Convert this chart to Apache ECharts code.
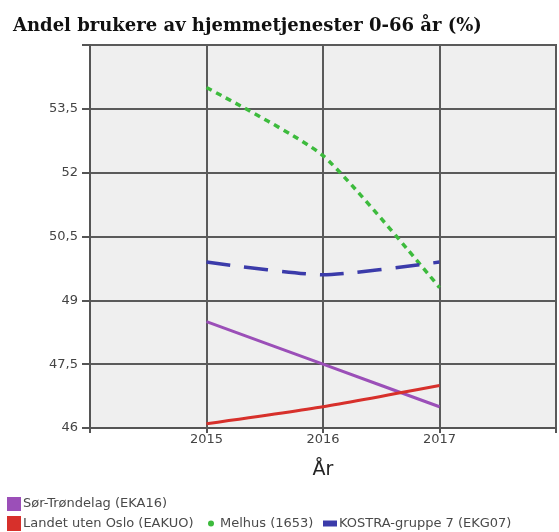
<!DOCTYPE html>
<html><head><meta charset="utf-8">
<script src="https://cdn.jsdelivr.net/npm/echarts@6/dist/echarts.min.js"></script>
<style>html,body{margin:0;padding:0;background:#fff}#c{width:559px;height:532px}</style>
</head><body><div id="c"></div>
<script>
const years = [2015, 2016, 2017];
const sorTrondelag = [48.5, 47.5, 46.5];
const landetUtenOslo = [46.1, 46.5, 47.0];
const melhus = [54.0, 52.4, 49.3];
const kostra7 = [49.9, 49.6, 49.9];
const seriesNames = ['Sør-Trøndelag (EKA16)', 'Landet uten Oslo (EAKUO)', 'Melhus (1653)', 'KOSTRA-gruppe 7 (EKG07)'];
const colors = ['#9b4fb8', '#d7302b', '#3dbb3d', '#3b3baa'];

const pair = v => years.map((y, i) => [y, v[i]]);
const chart = echarts.init(document.getElementById('c'));
const legText = (pad) => ({fontSize: 13, color: '#4a4a4a', fontFamily: 'DejaVu Sans', padding: [0,0,0,pad]});
chart.setOption({
  animation: false,
  title: {text: 'Andel brukere av hjemmetjenester 0-66 år (%)', left: 8, top: 12,
    textStyle: {fontFamily: 'DejaVu Serif', fontWeight: 'bold', fontSize: 18, color: '#111'}},
  legend: [
    {data: [{name: seriesNames[0], icon: 'rect'}], left: 7, top: 497, itemWidth: 14, itemHeight: 14, textStyle: legText(-3), padding: 0},
    {data: [{name: seriesNames[1], icon: 'rect'}], left: 7, top: 516, itemWidth: 14, itemHeight: 15, textStyle: legText(-3), padding: 0},
    {data: [{name: seriesNames[2], icon: 'circle'}], left: 208, top: 517, itemWidth: 6, itemHeight: 6, textStyle: legText(1), padding: 0},
    {data: [{name: seriesNames[3], icon: 'rect'}], left: 323, top: 517, itemWidth: 14, itemHeight: 6, textStyle: legText(-3), padding: 0}
  ],
  grid: {left: 90, right: 2, top: 45, bottom: 104, show: true, backgroundColor: '#efefef', borderColor: '#555', borderWidth: 2},
  xAxis: {type: 'value', min: 2014, max: 2018, interval: 1,
    name: 'År', nameLocation: 'middle', nameGap: 33,
    nameTextStyle: {fontSize: 19, color: '#222', fontFamily: 'DejaVu Sans'},
    axisLine: {show: true, lineStyle: {color: '#555', width: 2}},
    axisTick: {show: true, length: 5, lineStyle: {color: '#555', width: 2}},
    axisLabel: {margin: 5, fontSize: 13, color: '#444', fontFamily: 'DejaVu Sans',
      formatter: v => (v === 2014 || v === 2018) ? '' : String(v)},
    splitLine: {show: true, lineStyle: {color: '#5a5a5a', width: 2}}},
  yAxis: {type: 'value', min: 46, max: 55, interval: 1.5,
    axisLine: {show: true, lineStyle: {color: '#555', width: 2}},
    axisTick: {show: true, length: 8, lineStyle: {color: '#555', width: 2}},
    axisLabel: {margin: 12, fontSize: 13, color: '#444', fontFamily: 'DejaVu Sans',
      formatter: v => v >= 55 ? '' : String(v).replace('.', ',')},
    splitLine: {show: true, lineStyle: {color: '#5a5a5a', width: 2}}},
  series: [
    {name: seriesNames[0], type: 'line', data: pair(sorTrondelag), symbol: 'none', smooth: 0.2,
      itemStyle: {color: colors[0]}, lineStyle: {color: colors[0], width: 3}},
    {name: seriesNames[1], type: 'line', data: pair(landetUtenOslo), symbol: 'none', smooth: 0.2,
      itemStyle: {color: colors[1]}, lineStyle: {color: colors[1], width: 3}},
    {name: seriesNames[2], type: 'line', data: pair(melhus), symbol: 'none', smooth: 0.2,
      itemStyle: {color: colors[2]}, lineStyle: {color: colors[2], width: 3.5, type: [6, 5]}},
    {name: seriesNames[3], type: 'line', data: pair(kostra7), symbol: 'none', smooth: 0.2,
      itemStyle: {color: colors[3]}, lineStyle: {color: colors[3], width: 3.5, type: [24, 14]}}
  ]
});
</script></body></html>
